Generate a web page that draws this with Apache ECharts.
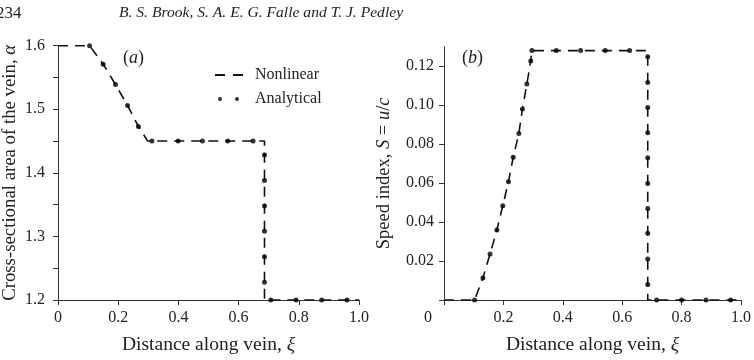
<!DOCTYPE html>
<html>
<head>
<meta charset="utf-8">
<script src="https://cdn.jsdelivr.net/npm/echarts@6/dist/echarts.min.js"></script>
<style>
  html, body { margin: 0; padding: 0; background: #fff; }
  #main { width: 754px; height: 360px; }
</style>
</head>
<body>
<div id="main"></div>
<script>
// (a) cross-sectional area
var xA_line = [0, 0.105, 0.150, 0.191, 0.231, 0.267, 0.298, 0.686, 0.686, 1.0];
var yA_line = [1.6, 1.6, 1.571, 1.539, 1.506, 1.473, 1.45, 1.45, 1.2, 1.2];
var xA_dots = [0.105, 0.150, 0.191, 0.231, 0.267, 0.312, 0.399, 0.480, 0.564, 0.648,
               0.686, 0.686, 0.686, 0.686, 0.686, 0.686, 0.707, 0.791, 0.876, 0.960];
var yA_dots = [1.6, 1.571, 1.539, 1.506, 1.473, 1.45, 1.45, 1.45, 1.45, 1.45,
               1.428, 1.388, 1.348, 1.308, 1.268, 1.228, 1.2, 1.2, 1.2, 1.2];

// (b) speed index
var xB_line = [0, 0.103, 0.131, 0.155, 0.178, 0.198, 0.217, 0.233, 0.252, 0.264, 0.279, 0.292, 0.296, 0.686, 0.686, 1.0];
var yB_line = [0, 0, 0.0113, 0.0236, 0.0359, 0.0484, 0.0607, 0.0732, 0.0855, 0.098, 0.1108, 0.1227, 0.128, 0.128, 0, 0];
var xB_dots = [0.103, 0.131, 0.155, 0.178, 0.198, 0.217, 0.233, 0.252, 0.264, 0.279, 0.292, 0.296,
               0.378, 0.460, 0.543, 0.625,
               0.686, 0.686, 0.686, 0.686, 0.686, 0.686, 0.686, 0.686, 0.686, 0.686,
               0.716, 0.800, 0.882, 0.965];
var yB_dots = [0, 0.0113, 0.0236, 0.0359, 0.0484, 0.0607, 0.0732, 0.0855, 0.098, 0.1108, 0.1227, 0.128,
               0.128, 0.128, 0.128, 0.128,
               0.1248, 0.1116, 0.0988, 0.0858, 0.0730, 0.0598, 0.047, 0.0342, 0.021, 0.008,
               0, 0, 0, 0];

var xTicks = [0, 0.2, 0.4, 0.6, 0.8, 1.0];
var yA_ticks = [1.2, 1.3, 1.4, 1.5, 1.6];
var yB_ticks = [0, 0.02, 0.04, 0.06, 0.08, 0.10, 0.12];
var yB_labels = [0.02, 0.04, 0.06, 0.08, 0.10, 0.12];

function pairs(xs, ys) {
    return xs.map(function (x, i) { return [x, ys[i]]; });
}

var serif = '"Liberation Serif", "DejaVu Serif", serif';
var ink = '#222';
var axisCol = '#333';

var dashIcon = 'path://M0,0Z M28,6Z M0,2H10V4H0Z M18,2H28V4H18Z';
var dotIcon = 'path://M0,0Z M28,6Z M3,3A2,2 0 1 0 7,3A2,2 0 1 0 3,3Z M20,3A2,2 0 1 0 24,3A2,2 0 1 0 20,3Z';

function xAxisOpt(idx, shiftZero) {
    return {
        type: 'value', gridIndex: idx, min: 0, max: 1, interval: 0.2,
        splitLine: { show: false },
        axisLine: { onZero: false, lineStyle: { color: axisCol, width: 1 } },
        axisTick: { length: 5, customValues: xTicks, lineStyle: { color: axisCol } },
        axisLabel: {
            margin: 10, fontFamily: serif, fontSize: 16, color: ink,
            formatter: function (v) {
                if (v === 0) return shiftZero ? '{z|0}' : '0';
                return v.toFixed(1);
            },
            rich: { z: { fontFamily: serif, fontSize: 16, color: ink, padding: [0, 32, 0, 0] } }
        },
        name: 'Distance along vein, {i|ξ}',
        nameLocation: 'middle', nameGap: 35,
        nameTextStyle: {
            fontFamily: serif, fontSize: 19.5, color: ink,
            rich: { i: { fontFamily: serif, fontSize: 19.5, fontStyle: 'italic', color: ink } }
        }
    };
}

var chart = echarts.init(document.getElementById('main'));

var option = {
    backgroundColor: '#fff',
    animation: false,
    grid: [
        { left: 57.5, right: 395, top: 45.7, bottom: 60 },
        { left: 444, right: 7.3, top: 46.7, bottom: 60 }
    ],
    xAxis: [xAxisOpt(0, false), xAxisOpt(1, true)],
    yAxis: [
        {
            type: 'value', gridIndex: 0, min: 1.2, max: 1.6, interval: 0.1,
            splitLine: { show: false },
            axisLine: { onZero: false, lineStyle: { color: axisCol } },
            axisTick: { length: 5, lineStyle: { color: axisCol } },
            minorTick: { show: true, splitNumber: 2, length: 5, lineStyle: { color: axisCol } },
            axisLabel: {
                margin: 13, fontFamily: serif, fontSize: 16, color: ink,
                formatter: function (v) { return v.toFixed(1); }
            },
            name: 'Cross-sectional area of the vein, {i|α}',
            nameLocation: 'middle', nameGap: 38,
            nameTextStyle: {
                fontFamily: serif, fontSize: 18.8, color: ink,
                rich: { i: { fontFamily: serif, fontSize: 18.8, fontStyle: 'italic', color: ink } }
            }
        },
        {
            type: 'value', gridIndex: 1, min: 0, max: 0.13, interval: 0.02,
            splitLine: { show: false },
            axisLine: { onZero: false, lineStyle: { color: axisCol } },
            axisTick: { length: 5, customValues: yB_ticks, lineStyle: { color: axisCol } },
            axisLabel: {
                margin: 10, fontFamily: serif, fontSize: 16, color: ink,
                customValues: yB_labels,
                formatter: function (v) { return v.toFixed(2); }
            },
            name: 'Speed index, {i|S} = {i|u}/{i|c}',
            nameLocation: 'middle', nameGap: 50,
            nameTextStyle: {
                fontFamily: serif, fontSize: 18.5, color: ink,
                rich: { i: { fontFamily: serif, fontSize: 18.5, fontStyle: 'italic', color: ink } }
            }
        }
    ],
    legend: {
        left: 215, top: 67, orient: 'vertical', padding: 0,
        itemWidth: 28, itemHeight: 6, itemGap: 8,
        textStyle: { fontFamily: serif, fontSize: 16, color: ink, padding: [0, 0, 0, 7] },
        data: [
            { name: 'Nonlinear', icon: dashIcon },
            { name: 'Analytical', icon: dotIcon }
        ]
    },
    series: [
        {
            name: 'Nonlinear', type: 'line', xAxisIndex: 0, yAxisIndex: 0,
            data: pairs(xA_line, yA_line), symbol: 'none', color: '#111',
            lineStyle: { color: '#111', width: 1.6, type: [10, 7] }, z: 2
        },
        {
            name: 'Analytical', type: 'scatter', xAxisIndex: 0, yAxisIndex: 0,
            data: pairs(xA_dots, yA_dots), symbolSize: 5, color: '#000', z: 3
        },
        {
            name: 'Nonlinear', type: 'line', xAxisIndex: 1, yAxisIndex: 1,
            data: pairs(xB_line, yB_line), symbol: 'none', color: '#111',
            lineStyle: { color: '#111', width: 1.6, type: [10, 7] }, z: 2
        },
        {
            name: 'Analytical', type: 'scatter', xAxisIndex: 1, yAxisIndex: 1,
            data: pairs(xB_dots, yB_dots), symbolSize: 5, color: '#000', z: 3
        }
    ],
    graphic: [
        { type: 'text', left: -4, top: 5, style: { text: '234', font: '17px ' + serif, fill: ink } },
        { type: 'text', left: 119, top: 5, style: { text: 'B. S. Brook, S. A. E. G. Falle and T. J. Pedley', font: 'italic 15.6px ' + serif, fill: ink } },
        { type: 'text', left: 123, top: 49, style: { text: '({i|a})', font: '18px ' + serif, fill: ink,
            rich: { i: { fontFamily: serif, fontSize: 18, fontStyle: 'italic', fill: ink } } } },
        { type: 'text', left: 462, top: 49, style: { text: '({i|b})', font: '18px ' + serif, fill: ink,
            rich: { i: { fontFamily: serif, fontSize: 18, fontStyle: 'italic', fill: ink } } } }
    ]
};

chart.setOption(option);
</script>
</body>
</html>
